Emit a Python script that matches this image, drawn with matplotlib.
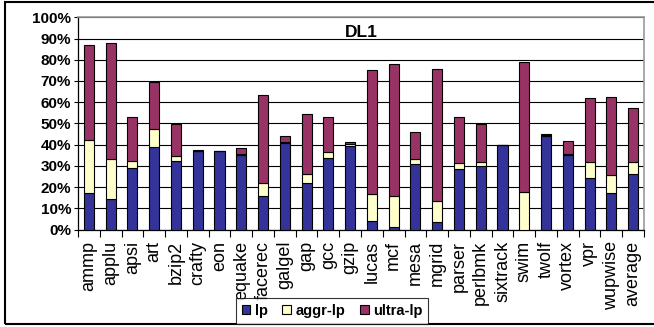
import matplotlib
matplotlib.use("Agg")
import matplotlib.pyplot as plt
import numpy as np
from matplotlib.patches import Patch, Rectangle
from matplotlib.ticker import FixedLocator, PercentFormatter

benchmarks = ["ammp", "applu", "apsi", "art", "bzip2", "crafty", "eon", "equake",
              "facerec", "galgel", "gap", "gcc", "gzip", "lucas", "mcf", "mesa",
              "mgrid", "parser", "perlbmk", "sixtrack", "swim", "twolf", "vortex",
              "vpr", "wupwise", "average"]

# cumulative tops of each stacked segment (percent)
lp_top = [17.3, 14.5, 29.2, 39.0, 32.5, 37.1, 36.8, 35.1, 16.0, 40.6, 22.0, 33.5, 39.5,
          3.9, 1.1, 30.8, 3.3, 28.3, 29.9, 39.9, 0.0, 44.2, 35.2, 24.1, 17.3, 26.3]
aggr_top = [42.0, 33.0, 32.4, 47.3, 34.6, 37.1, 36.8, 35.7, 21.9, 41.2, 26.3, 36.3, 40.1,
            16.7, 16.0, 33.0, 13.2, 31.4, 31.9, 39.9, 17.6, 44.4, 35.7, 31.9, 25.6, 31.9]
ultra_top = [86.8, 87.7, 53.1, 69.3, 49.5, 37.4, 36.8, 38.4, 63.4, 43.9, 54.4, 52.8, 41.0,
             75.0, 77.8, 45.8, 75.5, 53.1, 49.5, 39.9, 78.8, 44.8, 41.5, 61.8, 62.4, 57.1]

series_names = ["lp", "aggr-lp", "ultra-lp"]
colors = ["#333399", "#FFFFCC", "#993366"]

lp = np.array(lp_top)
aggr = np.array(aggr_top) - lp
ultra = np.array(ultra_top) - np.array(aggr_top)

plt.rcParams["font.family"] = ["Liberation Sans", "DejaVu Sans"]

fig = plt.figure(figsize=(6.54, 3.27), dpi=100)
ax = fig.add_axes([78 / 654, 1 - 229.5 / 327, (644 - 78) / 654, (229.5 - 17.3) / 327])

x = np.arange(len(benchmarks))
w = 0.46
ax.bar(x, lp, w, color=colors[0], edgecolor="black", linewidth=0.8, zorder=3)
ax.bar(x, aggr, w, bottom=lp, color=colors[1], edgecolor="black", linewidth=0.8, zorder=3)
ax.bar(x, ultra, w, bottom=np.array(aggr_top), color=colors[2], edgecolor="black",
       linewidth=0.8, zorder=3)

ax.set_xlim(-0.5, len(benchmarks) - 0.5)
ax.set_ylim(0, 100)
ax.set_yticks(np.arange(0, 101, 10))
ax.yaxis.set_major_formatter(PercentFormatter(decimals=0))
for lab in ax.get_yticklabels():
    lab.set_fontweight("bold")
ax.tick_params(axis="y", labelsize=11, length=3, width=0.8, pad=2, direction="out")

ax.set_xticks(x)
ax.set_xticklabels(benchmarks, rotation=90, fontsize=13)
ax.tick_params(axis="x", which="major", length=0, pad=8)
ax.xaxis.set_minor_locator(FixedLocator(np.arange(-0.5, len(benchmarks), 1.0)))
ax.tick_params(axis="x", which="minor", length=5, width=0.8, direction="out")

ax.yaxis.grid(True, color="black", linewidth=0.8, zorder=0)
ax.set_axisbelow(True)
for side in ["top", "right"]:
    ax.spines[side].set_color("#999999")
    ax.spines[side].set_linewidth(1.2)
for side in ["left", "bottom"]:
    ax.spines[side].set_color("black")
    ax.spines[side].set_linewidth(0.9)

ax.text(0.5, 0.93, "DL1", transform=ax.transAxes, ha="center", va="center",
        fontsize=12.5, fontweight="bold")

handles = [Patch(facecolor=c, edgecolor="black", linewidth=0.8) for c in colors]
leg = fig.legend(handles, series_names, loc="center", bbox_to_anchor=(332 / 654, 1 - 311 / 327),
                 ncol=3, frameon=True, fancybox=False, handlelength=0.6, handleheight=0.6,
                 handletextpad=0.3, columnspacing=1.0, borderpad=0.4,
                 prop={"weight": "bold", "size": 10.5})
leg.get_frame().set_edgecolor("black")
leg.get_frame().set_linewidth(0.8)

# outer frame of the chart
fig.patches.append(Rectangle((5.5 / 654, (327 - 323.5) / 327), 1.0, 322 / 327,
                             transform=fig.transFigure, fill=False, edgecolor="black",
                             linewidth=1.5, clip_on=False))

fig.savefig("out.png", dpi=100)
